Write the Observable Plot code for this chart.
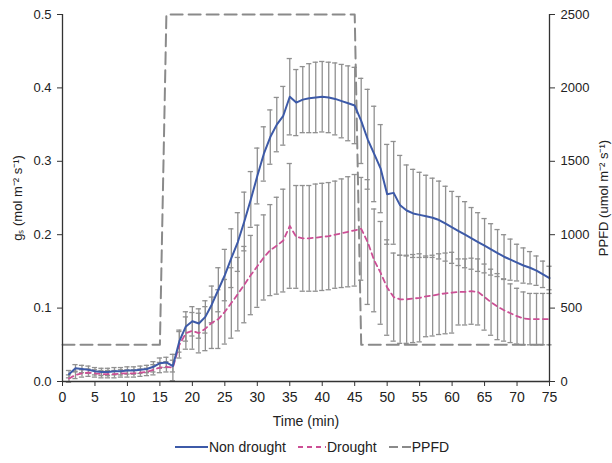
<!DOCTYPE html>
<html><head><meta charset="utf-8">
<script src="https://cdn.jsdelivr.net/npm/d3@7"></script>
<script src="https://cdn.jsdelivr.net/npm/@observablehq/plot@0.6"></script>
<style>
body{margin:0;background:#fff;font-family:"Liberation Sans",Arial,sans-serif;}
#legend{display:flex;justify-content:center;align-items:center;gap:12px;height:33px;font-size:14px;color:#222;padding-left:12px;box-sizing:border-box;width:612px;}
#legend span{display:flex;align-items:center;}
#legend svg{margin-right:1px;}
</style></head><body><div id="chart"></div>
<div id="legend">
<span><svg width="33" height="6"><line x1="0" y1="3" x2="33" y2="3" stroke="#3d5aa8" stroke-width="2"/></svg>Non drought</span>
<span><svg width="28" height="6"><line x1="0" y1="3" x2="28" y2="3" stroke="#cc4f95" stroke-width="2" stroke-dasharray="5,4"/></svg>Drought</span>
<span><svg width="22" height="6"><line x1="0" y1="3" x2="22" y2="3" stroke="#8a8a8a" stroke-width="2" stroke-dasharray="9,4"/></svg>PPFD</span>
</div>
<script>
const time = [1,2,3,4,5,6,7,8,9,10,11,12,13,14,15,16,17,18,19,20,21,22,23,24,25,26,27,28,29,30,31,32,33,34,35,36,37,38,39,40,41,42,43,44,45,46,47,48,49,50,51,52,53,54,55,56,57,58,59,60,61,62,63,64,65,66,67,68,69,70,71,72,73,74,75];
const nonDrought = [0.010,0.018,0.017,0.016,0.014,0.013,0.013,0.014,0.014,0.015,0.015,0.016,0.017,0.020,0.025,0.026,0.021,0.055,0.075,0.082,0.079,0.088,0.105,0.125,0.145,0.168,0.190,0.218,0.248,0.280,0.310,0.333,0.350,0.362,0.388,0.380,0.384,0.386,0.387,0.388,0.387,0.385,0.382,0.379,0.376,0.355,0.330,0.310,0.290,0.255,0.257,0.240,0.233,0.229,0.227,0.225,0.223,0.220,0.215,0.210,0.205,0.200,0.195,0.190,0.185,0.180,0.175,0.170,0.166,0.162,0.158,0.155,0.151,0.146,0.141];
const nonDroughtSE = [0.005,0.005,0.005,0.005,0.005,0.005,0.005,0.005,0.005,0.005,0.005,0.005,0.005,0.007,0.007,0.007,0.008,0.015,0.020,0.020,0.020,0.022,0.025,0.030,0.035,0.040,0.040,0.040,0.038,0.038,0.037,0.037,0.037,0.040,0.052,0.045,0.045,0.047,0.048,0.048,0.048,0.049,0.050,0.051,0.052,0.058,0.068,0.065,0.060,0.068,0.070,0.068,0.062,0.060,0.058,0.056,0.054,0.053,0.051,0.049,0.047,0.045,0.042,0.040,0.037,0.035,0.032,0.030,0.028,0.025,0.024,0.022,0.020,0.018,0.016];
const drought = [0.004,0.009,0.011,0.012,0.011,0.010,0.010,0.010,0.011,0.011,0.011,0.012,0.013,0.016,0.019,0.020,0.019,0.050,0.066,0.069,0.066,0.072,0.080,0.085,0.095,0.107,0.119,0.132,0.145,0.157,0.169,0.179,0.185,0.192,0.212,0.197,0.195,0.195,0.196,0.197,0.198,0.200,0.202,0.204,0.206,0.208,0.190,0.165,0.148,0.128,0.115,0.112,0.112,0.113,0.114,0.116,0.117,0.119,0.120,0.121,0.122,0.122,0.123,0.122,0.115,0.108,0.102,0.097,0.093,0.089,0.086,0.085,0.085,0.085,0.085];
const droughtSE = [0.005,0.005,0.005,0.005,0.005,0.005,0.005,0.005,0.005,0.005,0.005,0.005,0.005,0.007,0.007,0.007,0.018,0.018,0.022,0.025,0.027,0.030,0.035,0.040,0.044,0.048,0.050,0.052,0.054,0.056,0.058,0.062,0.066,0.070,0.085,0.070,0.072,0.072,0.073,0.073,0.073,0.073,0.074,0.075,0.076,0.070,0.085,0.070,0.070,0.065,0.060,0.060,0.060,0.060,0.060,0.055,0.055,0.055,0.055,0.055,0.045,0.045,0.045,0.045,0.045,0.045,0.045,0.042,0.040,0.038,0.036,0.035,0.035,0.035,0.035];
const ppfdTime = [0,15,16,45,46,75];
const ppfdValue = [250,250,2500,2500,250,250];
const xTicks = [0,5,10,15,20,25,30,35,40,45,50,55,60,65,70,75];
const yTicks = [0,0.1,0.2,0.3,0.4,0.5];
const ppfdTicks = [0,500,1000,1500,2000,2500];

const ppfdScale = 0.5 / 2500; // right axis maps 0-2500 onto 0-0.5
const nd = time.map((t,i)=>({t, v: nonDrought[i], se: nonDroughtSE[i]}));
const dr = time.map((t,i)=>({t, v: drought[i], se: droughtSE[i]}));
const pp = ppfdTime.map((t,i)=>({t, v: ppfdValue[i]}));
const errs = nd.concat(dr);
const capW = 0.4;
const errColor = "#909090";
const axisColor = "#333";

const chart = Plot.plot({
  width: 612, height: 430,
  marginLeft: 62, marginRight: 63, marginTop: 14, marginBottom: 49,
  style: {fontFamily: "Liberation Sans, Arial, sans-serif", fontSize: "14px", color: "#222", background: "#fff"},
  x: {domain: [0,75]},
  y: {domain: [0,0.5]},
  marks: [
    Plot.axisX({ticks: xTicks, tickSize: 5, tickPadding: 6, stroke: axisColor, label: "Time (min)", labelAnchor: "center", labelArrow: "none", labelOffset: 44, fontSize: 14}),
    Plot.axisY({ticks: yTicks, tickFormat: d3.format(".1f"), tickSize: 5, tickPadding: 6, stroke: axisColor, label: "gₛ (mol m⁻² s⁻¹)", labelAnchor: "center", labelArrow: "none", labelOffset: 50, fontSize: 13}),
    Plot.axisY({anchor: "right", ticks: ppfdTicks.map(v=>v*ppfdScale), tickFormat: d=>String(Math.round(d/ppfdScale)), tickSize: 5, tickPadding: 6, stroke: axisColor, label: "PPFD (umol m⁻² s⁻¹)", labelAnchor: "center", labelArrow: "none", labelOffset: 58, fontSize: 13}),
    Plot.ruleX(errs, {x: "t", y1: d=>d.v - d.se, y2: d=>d.v + d.se, stroke: errColor, strokeWidth: 1.3}),
    Plot.ruleY(errs, {y: d=>d.v + d.se, x1: d=>d.t - capW, x2: d=>d.t + capW, stroke: errColor, strokeWidth: 1.3}),
    Plot.ruleY(errs, {y: d=>d.v - d.se, x1: d=>d.t - capW, x2: d=>d.t + capW, stroke: errColor, strokeWidth: 1.3}),
    Plot.line(pp, {x: "t", y: d=>d.v*ppfdScale, stroke: "#8a8a8a", strokeWidth: 2, strokeDasharray: "12,6"}),
    Plot.line(dr, {x: "t", y: "v", stroke: "#cc4f95", strokeWidth: 1.8, strokeDasharray: "5,4"}),
    Plot.line(nd, {x: "t", y: "v", stroke: "#3d5aa8", strokeWidth: 2}),
    Plot.ruleX([0], {stroke: axisColor, strokeWidth: 1.3}),
    Plot.ruleX([75], {stroke: axisColor, strokeWidth: 1.3}),
    Plot.ruleY([0], {stroke: axisColor, strokeWidth: 1.3})
  ]
});
document.getElementById("chart").appendChild(chart);
</script>
</body></html>
